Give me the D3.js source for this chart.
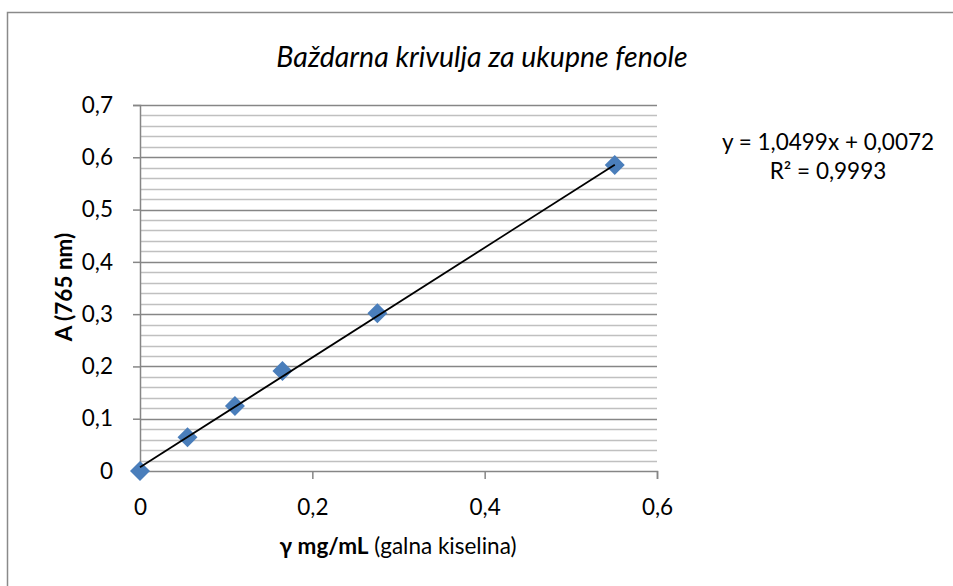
<!DOCTYPE html>
<html>
<head>
<meta charset="utf-8">
<script src="https://cdn.jsdelivr.net/npm/d3@7/dist/d3.min.js"></script>
<style>
  html, body { margin: 0; padding: 0; background: #fff; }
  svg { display: block; font-family: Lato, "Open Sans", sans-serif; }
</style>
</head>
<body>
<svg id="chart" width="953" height="586"></svg>
<script>
// Calibration data: gallic acid concentration vs absorbance at 765 nm
const concentration = [0, 0.0551, 0.1102, 0.1653, 0.2755, 0.551];
const absorbance = [0, 0.0645, 0.1243, 0.1912, 0.3016, 0.5852];
const slope = 1.0499;
const intercept = 0.0072;
const xTicks = [0, 0.2, 0.4, 0.6];
const yTicks = [0, 0.1, 0.2, 0.3, 0.4, 0.5, 0.6, 0.7];
const yMinorTicks = d3.range(0, 71, 2).map(v => v / 100);

const title = "Baždarna krivulja za ukupne fenole";
const equationText = "y = 1,0499x + 0,0072";
const r2Text = "R² = 0,9993";

const fmt = v => String(v).replace(".", ",");
const FS = 22.5;

const svg = d3.select("#chart");
const plot = { left: 140, right: 657, top: 105, bottom: 471 };

const x = d3.scaleLinear().domain([0, 0.6]).range([plot.left, plot.right]);
const y = d3.scaleLinear().domain([0, 0.7]).range([plot.bottom, plot.top]);

// outer chart frame
svg.append("rect")
  .attr("x", 7.5).attr("y", 12.5)
  .attr("width", 960).attr("height", 600)
  .attr("fill", "none").attr("stroke", "#8a8a8a").attr("stroke-width", 1.5);

// title
svg.append("text")
  .attr("x", 482).attr("y", 67)
  .attr("text-anchor", "middle")
  .attr("font-size", 28.5).attr("font-style", "italic")
  .attr("fill", "#000")
  .text(title);

// minor gridlines
svg.append("g")
  .selectAll("line")
  .data(yMinorTicks.filter(v => Math.round(v * 100) % 10 !== 0))
  .join("line")
  .attr("x1", plot.left).attr("x2", plot.right)
  .attr("y1", d => Math.round(y(d)) + 0.5).attr("y2", d => Math.round(y(d)) + 0.5)
  .attr("stroke", "#c0c0c0").attr("stroke-width", 1.5);

// major gridlines
svg.append("g")
  .selectAll("line")
  .data(yTicks.filter(v => v > 0))
  .join("line")
  .attr("x1", plot.left).attr("x2", plot.right)
  .attr("y1", d => Math.round(y(d)) + 0.5).attr("y2", d => Math.round(y(d)) + 0.5)
  .attr("stroke", "#868686").attr("stroke-width", 1.5);

// y axis
const yAxis = d3.axisLeft(y).tickValues(yTicks).tickFormat(fmt).tickSize(7).tickPadding(20);
const gy = svg.append("g").attr("transform", `translate(${plot.left},0)`).call(yAxis);
gy.select(".domain").attr("stroke", "#868686").attr("stroke-width", 1.5);
gy.selectAll(".tick line").attr("stroke", "#868686").attr("stroke-width", 1.5);
gy.selectAll(".tick text").attr("font-size", FS).attr("fill", "#000")
  .attr("font-family", "Lato, sans-serif");

// x axis
const xAxis = d3.axisBottom(x).tickValues(xTicks).tickFormat(fmt).tickSize(8).tickPadding(20);
const gx = svg.append("g").attr("transform", `translate(0,${plot.bottom})`).call(xAxis);
gx.select(".domain").attr("stroke", "#868686").attr("stroke-width", 1.5);
gx.selectAll(".tick line").attr("stroke", "#868686").attr("stroke-width", 1.5);
gx.selectAll(".tick text").attr("font-size", FS).attr("fill", "#000")
  .attr("font-family", "Lato, sans-serif");

// axis titles
svg.append("text")
  .attr("transform", "translate(72,287) rotate(-90)")
  .attr("text-anchor", "middle")
  .attr("font-size", FS).attr("font-weight", "bold")
  .text("A (765 nm)");

const xt = svg.append("text")
  .attr("x", 398).attr("y", 554)
  .attr("text-anchor", "middle")
  .attr("font-size", FS);
xt.append("tspan").attr("font-weight", "bold").text("γ mg/mL");
xt.append("tspan").text(" (galna kiselina)");

// diamond markers
const r = 10;
svg.append("g")
  .selectAll("path")
  .data(concentration.map((c, i) => [c, absorbance[i]]))
  .join("path")
  .attr("d", d => {
    const cx = x(d[0]), cy = y(d[1]);
    return `M${cx},${cy - r}L${cx + r},${cy}L${cx},${cy + r}L${cx - r},${cy}Z`;
  })
  .attr("fill", "#4a7ebb");

// linear trendline drawn over the markers
const xMax = d3.max(concentration);
svg.append("line")
  .attr("x1", x(0)).attr("y1", y(intercept))
  .attr("x2", x(xMax)).attr("y2", y(slope * xMax + intercept))
  .attr("stroke", "#000").attr("stroke-width", 1.8);

// regression equation
svg.append("text")
  .attr("x", 828).attr("y", 150)
  .attr("text-anchor", "middle").attr("font-size", FS)
  .text(equationText);
svg.append("text")
  .attr("x", 828).attr("y", 179)
  .attr("text-anchor", "middle").attr("font-size", FS)
  .text(r2Text);
</script>
</body>
</html>
